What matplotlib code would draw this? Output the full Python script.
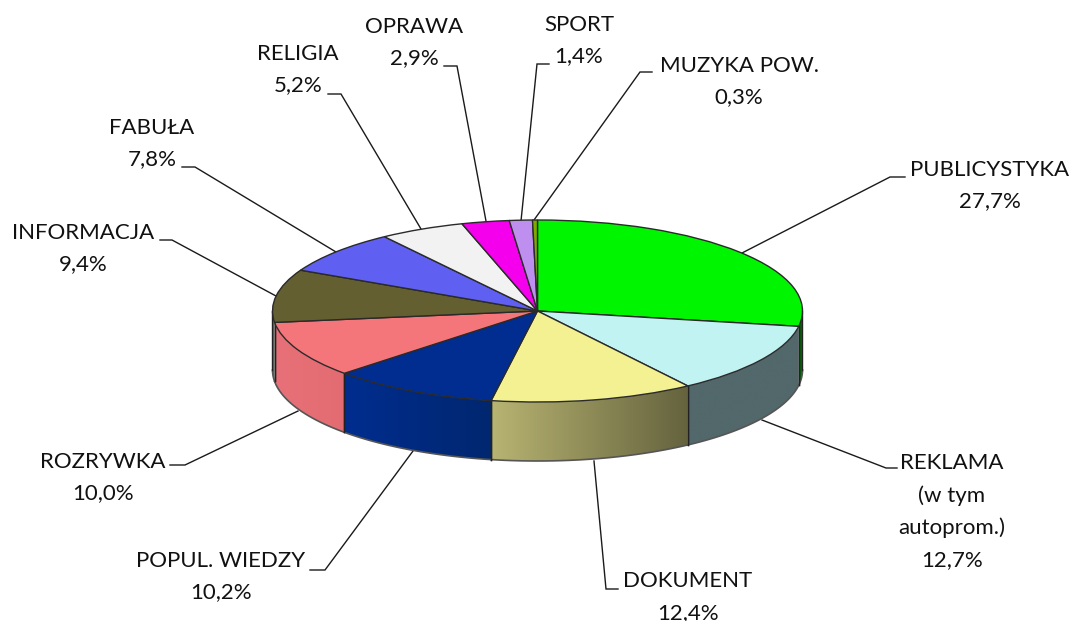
import numpy as np
import matplotlib
matplotlib.use("Agg")
import matplotlib.pyplot as plt
from matplotlib.colors import to_rgb
from matplotlib.patches import Polygon

plt.rcParams['font.family'] = ['Lato', 'DejaVu Sans']

categories = ['PUBLICYSTYKA', 'REKLAMA\n(w tym\nautoprom.)', 'DOKUMENT', 'POPUL. WIEDZY', 'ROZRYWKA',
              'INFORMACJA', 'FABUŁA', 'RELIGIA', 'OPRAWA', 'SPORT', 'MUZYKA POW.']
values = [27.7, 12.7, 12.4, 10.2, 10.0, 9.4, 7.8, 5.2, 2.9, 1.4, 0.3]
value_labels = ['27,7%', '12,7%', '12,4%', '10,2%', '10,0%', '9,4%', '7,8%', '5,2%', '2,9%', '1,4%', '0,3%']
top_colors = ['#00F500', '#C2F3F3', '#F3F191', '#002D8F', '#F4767A', '#635F30',
              '#5F5FF2', '#F2F2F2', '#F500EC', '#BF8FF0', '#7FA800']
wall_left = ['#006E00', '#52686B', '#B8B472', '#002D8F', '#E87078', '#6B6A60',
             '#5F5FF2', '#F2F2F2', '#F500EC', '#BF8FF0', '#7FA800']
wall_right = ['#006E00', '#52686B', '#65633E', '#00276F', '#E36C72', '#6B6A60',
              '#5F5FF2', '#F2F2F2', '#F500EC', '#BF8FF0', '#7FA800']

label_pos = [(989.5, 185.5), (952, 511.5), (688, 597), (221, 576.5), (103, 477.5),
             (83, 248.5), (152, 143.5), (298, 69.5), (414, 42.5), (579, 40.5), (739, 81.5)]
leaders = [[(742, 253), (890, 177), (905, 177)],
           [(762, 420), (886, 468), (897, 468)],
           [(594, 461), (606, 589), (618, 589)],
           [(413, 451), (325, 570), (310, 570)],
           [(298, 411), (185, 465), (170, 465)],
           [(276, 296), (172, 240), (160, 240)],
           [(336, 252), (195, 167), (182, 167)],
           [(421, 229), (341, 94), (328, 94)],
           [(486, 221), (457, 66), (444, 66)],
           [(521, 221), (537, 64), (549, 64)],
           [(534, 220), (640, 72), (652, 72)]]

W, H = 1069, 621
CX, CY, RX, RY, DEPTH = 537.5, 311.0, 265.0, 91.0, 59.0

fig = plt.figure(figsize=(W / 100, H / 100), dpi=100, facecolor='white')
ax = fig.add_axes([0, 0, 1, 1])
EDGE = '#2a2a2a'

dy = DEPTH / RY
cum = np.cumsum([0] + values)
for i in range(len(values)):
    a0 = np.pi / 2 - 2 * np.pi * cum[i] / 100
    a1 = np.pi / 2 - 2 * np.pi * cum[i + 1] / 100
    lo, hi = max(a1, -np.pi), min(a0, 0)
    if lo >= hi:
        continue
    ts = np.linspace(hi, lo, 80)
    xs, ys = np.cos(ts), np.sin(ts)
    poly = Polygon(np.c_[np.r_[xs, xs[::-1]], np.r_[ys, ys[::-1] - dy]], closed=True,
                   transform=ax.transData, facecolor='none', edgecolor='none')
    ax.add_patch(poly)
    c0, c1 = np.array(to_rgb(wall_left[i])), np.array(to_rgb(wall_right[i]))
    f = np.linspace(0, 1, 256)[:, None]
    grad = (c0 + (c1 - c0) * f)[None, :, :]
    x_min, x_max = min(xs), max(xs)
    im = ax.imshow(grad, extent=(x_min, x_max, -1 - dy, 0.2), origin='lower', aspect='auto',
                   interpolation='bilinear', zorder=2)
    im.set_clip_path(poly)
    ax.plot(xs, ys - dy, color='#555555', lw=1.2, zorder=3)
    for t in (hi, lo):
        ax.plot([np.cos(t)] * 2, [np.sin(t), np.sin(t) - dy], color='#222222', lw=1.0, zorder=3)

wedges, _ = ax.pie(values, colors=top_colors, startangle=90, counterclock=False, radius=1,
                   wedgeprops=dict(edgecolor=EDGE, linewidth=1.0))
for w in wedges:
    w.set_zorder(4)

ax.set_xlim(-CX / RX, (W - CX) / RX)
ax.set_ylim((CY - H) / RY, CY / RY)
ax.set_aspect('auto')
ax.set_axis_off()

ov = fig.add_axes([0, 0, 1, 1], zorder=-1)
ov.set_xlim(0, W)
ov.set_ylim(H, 0)
ov.set_axis_off()
for pts in leaders:
    p = np.array(pts)
    ov.plot(p[:, 0], p[:, 1], color='#1a1a1a', lw=1.0, solid_joinstyle='miter')
for name, val, (x, y) in zip(categories, value_labels, label_pos):
    ov.text(x, y, f'{name}\n{val}', ha='center', va='center', fontsize=16.0,
            linespacing=1.72, color='#111111')

fig.savefig('out.png', dpi=100, facecolor='white')
